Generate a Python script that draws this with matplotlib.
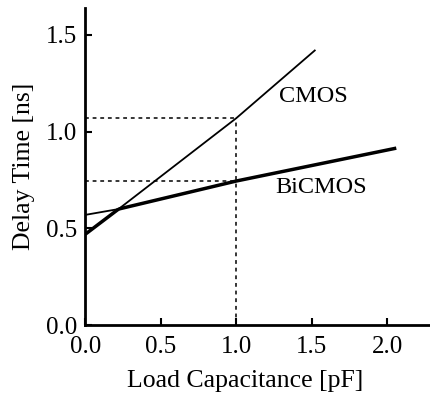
import matplotlib.pyplot as plt

# CMOS / BiCMOS gate delay vs load capacitance
cmos_x = [0.0, 0.22, 1.0, 1.52]
cmos_y = [0.47, 0.60, 1.07, 1.42]
bicmos_x = [0.0, 0.22, 1.0, 2.06]
bicmos_y = [0.57, 0.60, 0.745, 0.915]

x_ticks = [0.0, 0.5, 1.0, 1.5, 2.0]
y_ticks = [0.0, 0.5, 1.0, 1.5]

plt.rcParams['font.family'] = ['Liberation Serif', 'DejaVu Serif']

fig = plt.figure(figsize=(4.31, 3.96), dpi=100)
ax = fig.add_axes([0.198, 0.179, 0.802, 0.801])

thin, thick = 1.3, 2.5
# in the print the segments left of the crossing have swapped weights
ax.plot(cmos_x[:2], cmos_y[:2], color='black', lw=thick, solid_capstyle='butt')
ax.plot(cmos_x[1:], cmos_y[1:], color='black', lw=thin)
ax.plot(bicmos_x[:2], bicmos_y[:2], color='black', lw=thin)
ax.plot(bicmos_x[1:], bicmos_y[1:], color='black', lw=thick, solid_capstyle='butt')

# dotted guides at 1 pF
dot = dict(color='black', lw=1.1, linestyle=(0, (2.5, 2.5)))
ax.plot([0, cmos_x[2]], [cmos_y[2], cmos_y[2]], **dot)
ax.plot([0, bicmos_x[2]], [bicmos_y[2], bicmos_y[2]], **dot)
ax.plot([cmos_x[2], cmos_x[2]], [0, cmos_y[2]], **dot)

ax.text(1.51, 1.18, 'CMOS', fontsize=17.5, ha='center', va='center')
ax.text(1.56, 0.71, 'BiCMOS', fontsize=17.5, ha='center', va='center')

ax.set_xlim(0, 2.29)
ax.set_ylim(0, 1.64)
ax.set_xticks(x_ticks)
ax.set_yticks(y_ticks)
ax.set_xticklabels([f'{v:.1f}' for v in x_ticks])
ax.set_yticklabels([f'{v:.1f}' for v in y_ticks])
ax.tick_params(direction='in', length=5, width=1.5, labelsize=18)
ax.tick_params(axis='x', pad=8)
ax.tick_params(axis='y', pad=6)

for s in ['top', 'right']:
    ax.spines[s].set_visible(False)
for s in ['left', 'bottom']:
    ax.spines[s].set_linewidth(2)

ax.set_xlabel('Load Capacitance [pF]', fontsize=18.5)
ax.xaxis.set_label_coords(0.462, -0.14)
ax.set_ylabel('Delay Time [ns]', fontsize=18.5, labelpad=8)

fig.savefig('out.png', dpi=100)
